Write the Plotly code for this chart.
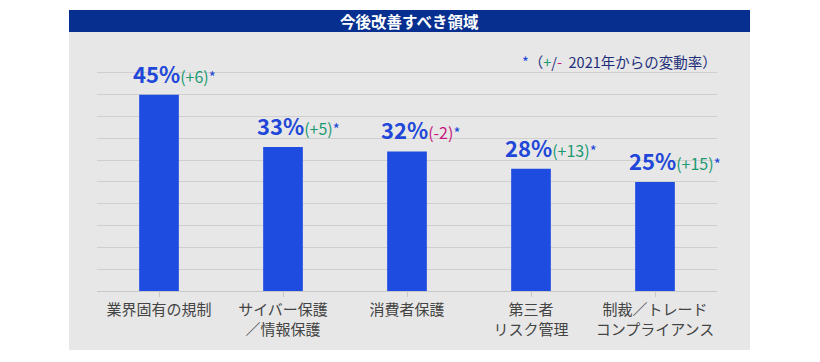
import plotly.graph_objects as go

categories = ["業界固有の規制", "サイバー保護<br>／情報保護", "消費者保護", "第三者<br>リスク管理", "制裁／トレード<br>コンプライアンス"]
values = [45, 33, 32, 28, 25]
changes = ["(+6)", "(+5)", "(-2)", "(+13)", "(+15)"]
title_text = "今後改善すべき領域"

# page body has an 8px margin, so work in page pixels and subtract it
OFF = 8
W, H = 820 - OFF, 362 - OFF
L, R, T, B = 97 - OFF, 717 - OFF, 51 - OFF, 291 - OFF

def px(x):
    return (x - OFF - L) / (R - L)

def py(y):
    return (B - (y - OFF)) / (B - T)

FONT = "Noto Sans CJK JP"
GREEN = "#1b9a72"
MAGENTA = "#c8177e"
BLUE = "#2147d9"
NAVY = "#1e2f7a"

fig = go.Figure()
fig.add_trace(go.Bar(
    x=list(range(len(categories))), y=values, width=0.32,
    marker=dict(color="#1f4ce0", line=dict(width=0)),
    hoverinfo="skip",
))

shapes = [
    dict(type="rect", xref="paper", yref="paper", x0=px(69), x1=px(750), y0=py(350), y1=py(32),
         fillcolor="#e7e7e7", line=dict(width=0), layer="below"),
    dict(type="rect", xref="paper", yref="paper", x0=px(69), x1=px(750), y0=py(32), y1=py(10),
         fillcolor="#062f8f", line=dict(width=0), layer="below"),
]

annotations = [
    dict(x=(px(69) + px(750)) / 2, y=py(21), xref="paper", yref="paper", text="<b>" + title_text + "</b>",
         showarrow=False, font=dict(family=FONT, size=15.5, color="white"), xanchor="center", yanchor="middle"),
    dict(x=px(719), y=py(62), xref="paper", yref="paper",
         text=f"<span style='color:{BLUE}'>*</span>（<span style='color:{GREEN}'>+</span>/<span style='color:{MAGENTA}'>-</span>  2021年からの変動率）",
         showarrow=False, font=dict(family=FONT, size=14.5, color=NAVY), xanchor="right", yanchor="middle"),
]
for i, (v, c) in enumerate(zip(values, changes)):
    col = MAGENTA if c.startswith("(-") else GREEN
    annotations.append(dict(
        x=i, y=v, xref="x", yref="y",
        text=f"<b>{v}%</b><span style='font-size:16px;color:{col}'>{c}</span><span style='font-size:15px'>*</span>",
        showarrow=False, font=dict(family=FONT, size=22, color=BLUE),
        xanchor="left", yanchor="bottom", xshift=-28, yshift=4,
    ))

fig.update_layout(
    width=W, height=H,
    margin=dict(l=L, r=W - R, t=T, b=H - B, pad=0),
    paper_bgcolor="white", plot_bgcolor="rgba(0,0,0,0)",
    shapes=shapes, annotations=annotations, showlegend=False,
    xaxis=dict(
        tickmode="array", tickvals=list(range(len(categories))), ticktext=categories,
        range=[-0.5, len(categories) - 0.5],
        tickson="boundaries", ticks="outside", ticklen=5, tickcolor="#c8c8c8",
        showline=True, linecolor="#c8c8c8", linewidth=1, showgrid=False,
        tickfont=dict(family=FONT, size=15, color="#444444"),
        fixedrange=True,
    ),
    yaxis=dict(
        range=[0, 55.01], dtick=5, showticklabels=False, ticks="",
        showgrid=True, gridcolor="#cfcfcf", gridwidth=1, zeroline=False,
        fixedrange=True,
    ),
)

fig.write_html("out.html", config={"displayModeBar": False})
